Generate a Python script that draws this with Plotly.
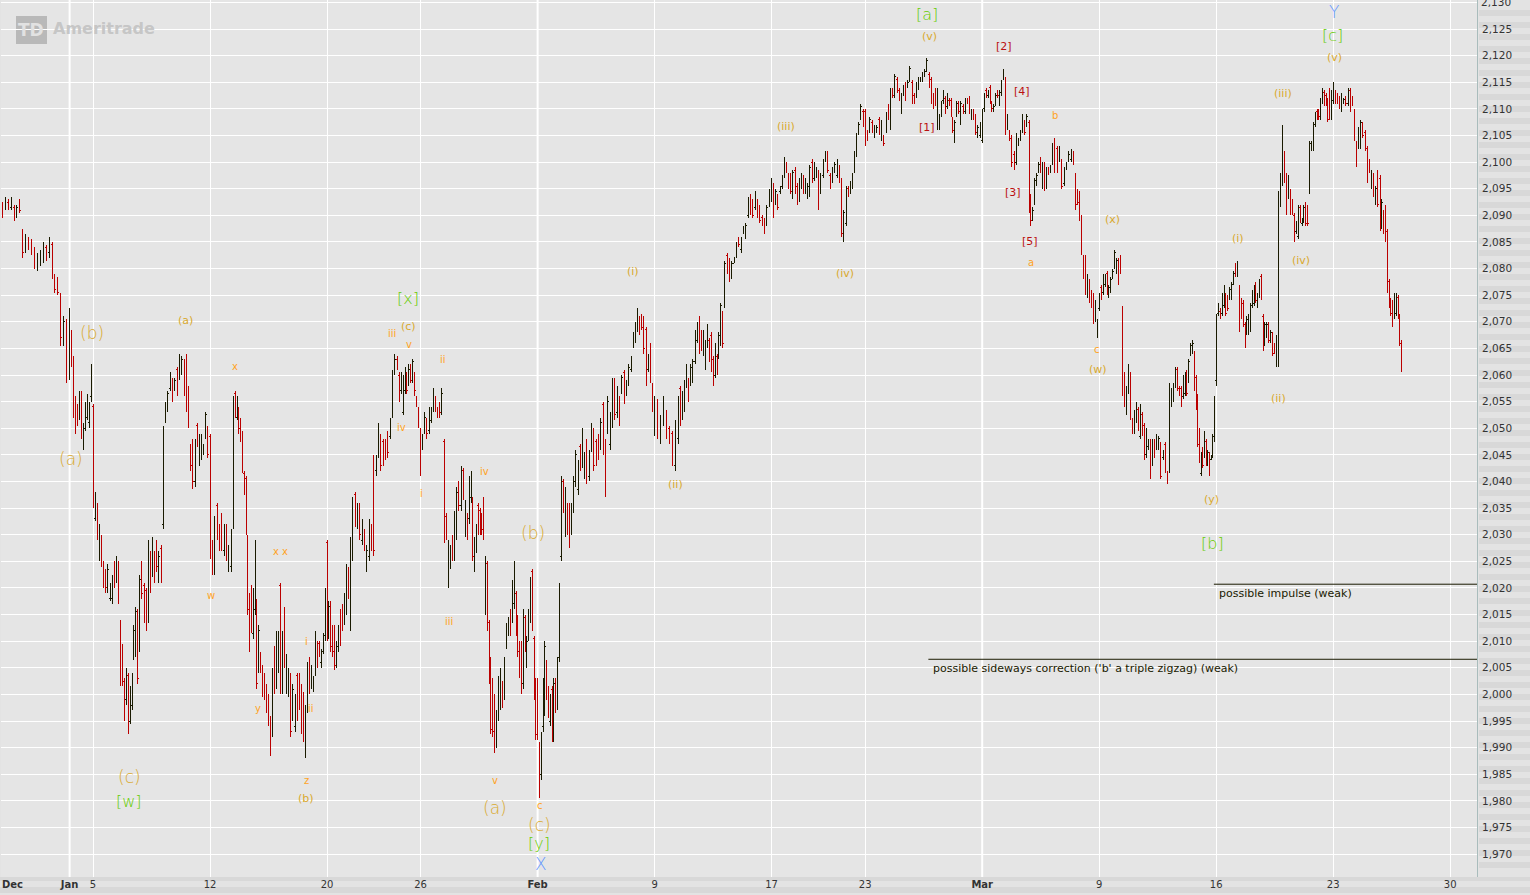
import plotly.graph_objects as go

# half hour bars, one row per trading session, first row is four sessions before Jan 5
first_session = -4

session_highs = [
    [2092,2092.5,2093.5,2093,2093.5,2092,2092,2093],
    [2087.5,2086.5,2086,2085.5,2084,2083,2083.5,2085],
    [2084.5,2086,2085,2079,2078.5,2075.5,2071,2070.5],
    [2072.5,2068.5,2063.5,2056,2054.5,2057,2057,2051,2055,2056.5,2055,2062],
    [2054.5,2038,2036,2032,2030,2025,2023.5,2024.5,2021,2022.5,2025],
    [2026,2025,2014,2009.5,2003,2005,2004,2001.5,2004,2013,2016.5,2016],
    [2022.5,2025,2021,2020,2029,2027,2029.5,2027,2029,2027,2028],
    [2050.5,2055,2057,2060.5,2059.5,2059.5,2061.5,2064,2063.5,2063],
    [2064,2058,2047,2048,2048,2051,2049,2049,2047,2053,2050.5],
    [2049,2029,2033.5,2036,2032,2034,2032,2032,2028,2031],
    [2056,2057,2056,2054,2052,2049.5,2042,2041,2030,2019,2020.5,2020,2029],
    [2018,2013,2008,2005.5,2004,2002,2000,1996,2005,2009,2012,2012],
    [2021,2012,2016.5,2007.5,2005,2004,2002,2000,2004,2004,2002],
    [2000.5,1998,2006,2007,2005.5,2003.5,2012,2010,2010,2008.5,2011.5,2020],
    [2029,2017.5,2017.5,2013,2013,2010,2013,2016,2017,2019,2024.5,2024],
    [2029.5,2037,2038,2036,2036,2033,2031,2028,2033,2032],
    [2045,2045,2051,2049,2048,2048,2049.5,2052,2061,2064],
    [2063.5,2060.5,2060.5,2060,2061.5,2060.5,2062,2062,2063,2060.5,2056,2054],
    [2050,2049,2053,2052,2054,2054,2057.5,2056,2054,2055,2057.5],
    [2048,2034,2029,2028,2030,2034.5,2039,2040,2043,2042.5,2036.5],
    [2034,2041,2042,2037,2029.5,2032,2036,2035,2034,2037,2026,2025,2014],
    [2007,2003,2000,1997,2003.5,2005,2002.5,2007,2013.5,2014.5,2016,2021.5],
    [2025,2019.5,2015,2010,2010,2016,2015,2011,2016,2022,2023.5,2011,2003],
    [2003,1991,1993,2003,2010,2006.5,2001.5,2000,2001.5,2003,2003,2007,2021],
    [2041,2040.5,2039,2036,2036,2036,2041,2046,2044,2047,2050],
    [2045.5,2048,2046,2051,2050,2048,2049,2052,2055,2048],
    [2056,2053,2059.5,2059.5,2058,2056,2060,2061,2059,2062],
    [2063.5,2068,2070,2072.5,2071,2071.5,2071,2069,2064,2066,2058.5],
    [2056,2055.5,2052.5,2056,2053.5,2050.5,2049.5,2051.5],
    [2056,2058,2057,2059,2062,2059.5,2062,2063,2068.5,2070,2071],
    [2068.5,2068.5,2066.5,2069.5,2067,2068,2063.5,2066,2064,2068,2073.5,2072],
    [2081.5,2083,2082,2081.5,2082,2085,2086,2086,2088,2088.5],
    [2093.5,2094,2093,2094.5,2093,2092,2090,2089.5,2092,2095],
    [2097,2096,2095,2094,2095.5,2097.5,2101,2100,2098,2098,2098.5],
    [2099,2096,2097,2098,2097.5,2097,2096,2099.5,2100.5,2100,2099],
    [2098.5,2098,2100.5,2102,2102,2098,2099,2100,2100.5,2099.5],
    [2097,2091,2095.5,2095.5,2096.5,2098,2102,2105.5,2107.5,2111,2110],
    [2110,2106,2108.5,2108,2107,2107,2108.5,2108,2105,2109.5],
    [2111,2114,2114,2116.5,2116,2114,2113,2114.5,2115,2115.5,2118],
    [2115.5,2113,2115,2116,2116,2117,2117.5,2119.5,2117,2116,2113],
    [2114,2114,2109,2111.5,2113.5,2112.5,2113,2112,2112,2108.5,2108,2111.5],
    [2111.5,2111.5,2111,2112,2112,2112.5,2110,2110,2109,2107,2107.5],
    [2110,2113,2114,2113.5,2114.5,2111.5,2111,2113,2113.5,2113.5,2115.5,2117.5],
    [2116,2109,2106,2105,2102,2105.5,2104.5,2106,2109,2108,2109],
    [2108,2094,2091.5,2097,2098,2100,2101,2100,2100,2099,2099,2099.5],
    [2103.5,2104.5,2103,2103,2100.5,2099,2100,2102,2102.5,2102],
    [2098,2095,2094.5,2090,2082.5,2082.5,2079,2078,2076,2075.5,2074,2070.5],
    [2075.5,2077,2079,2079,2079.5,2077,2078.5,2080,2083.5,2082,2082,2082.5],
    [2073,2060.5,2058,2062,2060.5,2052,2053.5,2055,2054,2054.5,2053,2051],
    [2050,2048,2048,2048,2048,2049,2048.5,2047.5,2046,2047.5,2042],
    [2058.5,2057.5,2058.5,2061.5,2061.5,2058,2058,2060,2060.5,2061,2063,2066],
    [2066.5,2064.5,2060,2056.5,2050,2045.5,2046.5,2049.5,2048,2046,2045.5,2045,2049,2056],
    [2071.5,2073.5,2072.5,2075.5,2077,2075.5,2075,2076.5,2077.5,2079.5,2081,2081.5],
    [2077,2074.5,2074,2070,2071,2071.5,2073.5,2076,2077,2077.5,2075.5,2078,2079],
    [2071.5,2070,2070,2070,2068.5,2068,2066,2067.5,2094.5,2098,2107,2102],
    [2098,2097.5,2095,2093,2090.5,2089,2092,2092,2089.5,2092,2092.5,2092],
    [2104,2104,2107.5,2109.5,2110,2110,2112,2114,2113.5,2113,2112,2114,2113.5],
    [2115,2113.5,2113,2112.5,2113,2112,2112.5,2114,2114,2112.5,2110],
    [2104,2106.5,2108,2107.5,2106,2103,2100.5,2098.5,2098,2095.5,2098.5],
    [2097.5,2093,2091,2092,2087.5,2078,2074.5,2074,2075.5,2075.5,2075,2071.5,2066.5],
]

session_lows = [
    [2085.5,2089.5,2091,2091,2091,2089,2089.5,2090.5],
    [2082,2083,2083.5,2082.5,2080,2079.5,2080.5,2081],
    [2081.5,2082,2078,2075.5,2075,2065.5,2065.5,2058.5],
    [2059,2061.5,2052,2049,2050.5,2051.5,2048,2046,2049.5,2051.5,2050,2055],
    [2035,2032.5,2029,2025,2024,2020,2019,2019,2017.5,2017,2020],
    [2021,2017,2001.5,2001.5,1995,1998,1992.5,1994.5,1997,2006.5,2007,2002],
    [2008,2018,2013.5,2012,2013.5,2019,2022,2021,2023,2021,2021],
    [2031,2051,2053,2057,2055,2057,2056,2059,2060,2056],
    [2053,2050,2042,2038.5,2039,2046.5,2043,2044,2045,2048,2044.5],
    [2025.5,2022.5,2022.5,2029,2027,2027,2026,2025,2023,2023],
    [2031,2052,2051.5,2049,2047.5,2041.5,2037.5,2030,2015,2008,2011.5,2010.5,2015],
    [2001,2004,2004,1999.5,1999,1996.5,1994,1988.5,1992,2000,2001,2004],
    [2000,2000,2005,2000,1999.5,1992,1995,1993,1995,1997,1992.5],
    [1991,1988,1996.5,2000,2001,2000.5,2003.5,2005,2007,2005,2007.5,2010],
    [2010,2010.5,2008,2007,2004.5,2005,2008,2009,2012,2013,2015,2018],
    [2012,2025,2031.5,2031,2029,2028,2027,2023,2025,2027],
    [2026,2041,2044.5,2042,2043,2044,2044.5,2048,2052,2060],
    [2061,2055,2056.5,2052.5,2056.5,2056.5,2058,2058.5,2058.5,2056,2054,2050],
    [2041,2046,2049,2048,2049,2051,2053,2053,2052,2052,2052.5],
    [2028.5,2029,2020,2023.5,2025,2025,2029,2034.5,2034.5,2036.5,2029.5],
    [2029,2032,2036,2025,2023,2026.5,2030,2030,2030,2029,2015,2012,2002],
    [1992.5,1992,1989,1990,1995,1997,1997.5,1999,2008.5,2011,2011,2013.5],
    [2016,2011,2007,2003,2000,2001,2008,2005,2010,2013.5,2012,1999,1991.5],
    [1991.5,1980.5,1984,1993,1996,1999,1995.5,1994,1991,1991,1996.5,1997,2006],
    [2025,2034,2029.5,2030,2027.5,2030,2034,2039,2037.5,2042,2042.5],
    [2040.5,2039.5,2040,2045.5,2042,2043,2044,2046,2045,2037],
    [2049,2046,2050,2051.5,2052,2050.5,2056.5,2054.5,2056,2058],
    [2060.5,2065,2066,2068,2067.5,2068.5,2064,2058,2060.5,2058.5,2053],
    [2048.5,2048,2047,2050.5,2048,2047,2043,2042],
    [2047,2050.5,2051.5,2053,2057.5,2055,2058,2058.5,2062,2066,2064],
    [2064.5,2063.5,2061,2065,2062.5,2060.5,2058,2059.5,2060,2063,2065.5,2065],
    [2072.5,2079,2077.5,2078,2081,2082,2084,2083,2086.5,2085.5],
    [2089.5,2090,2089.5,2091,2089.5,2088.5,2088,2086.5,2088,2091.5],
    [2092.5,2089.5,2092,2091,2094,2095,2097,2098,2095,2094,2093],
    [2094,2092,2092.5,2095,2094,2094,2093,2093.5,2096,2096.5,2097],
    [2091,2094,2097,2100,2098,2095,2096,2098,2097,2096],
    [2086,2085,2088,2093.5,2094,2095,2098,2101,2105,2108,2106.5],
    [2103,2104,2105.5,2105.5,2104.5,2105.5,2105,2104,2103,2105.5],
    [2108,2106,2112,2112,2113,2111.5,2109,2112.5,2111.5,2114,2115],
    [2111,2111,2112,2113.5,2115,2115,2116,2117,2114,2111,2110],
    [2110.5,2106,2106,2108.5,2111,2109,2110,2110.5,2108.5,2105.5,2103.5,2108.5],
    [2109,2107,2109,2109,2111,2109,2108,2108,2105,2104.5,2104.5],
    [2103.5,2109.5,2112,2112,2111,2109.5,2109.5,2110.5,2112,2110.5,2112.5,2115.5],
    [2105,2106,2104,2099,2098.5,2099.5,2103,2104,2105.5,2105,2106.5],
    [2090.5,2088,2089,2092,2095.5,2098,2098,2095,2094.5,2095,2097.5,2098],
    [2099.5,2098,2098,2100,2095,2095.5,2098.5,2100,2100,2099.5],
    [2091,2092,2089,2082.5,2078,2075,2074.5,2073.5,2072.5,2069.5,2070,2067],
    [2072,2074,2075,2076.5,2075,2074.5,2075.5,2078,2080,2079,2077,2079],
    [2056,2054,2052.5,2056.5,2051.5,2049,2049,2051,2049.5,2048,2048.5,2044],
    [2044.5,2046,2040.5,2043,2044.5,2046,2046,2040.5,2044,2041.5,2039.5],
    [2041.5,2054,2055,2057.5,2057,2056,2054,2055.5,2056,2056,2058.5,2063.5],
    [2064,2057,2053.5,2046.5,2043.5,2041,2042.5,2044.5,2043,2043,2041,2044,2044.5,2047.5],
    [2058,2071,2070.5,2071,2072.5,2071,2072,2074,2074,2077,2078.5,2078.5],
    [2068,2070.5,2069,2065,2067.5,2067.5,2068,2072.5,2073,2073.5,2072.5,2074.5,2074],
    [2064.5,2065.5,2067,2066,2066,2063.5,2064,2061.5,2061.5,2091.5,2095.5,2096],
    [2090,2093,2090,2090,2085,2086.5,2085.5,2088.5,2088,2088.5,2088,2088],
    [2094,2102,2102,2106.5,2108,2108,2108,2111,2110.5,2110.5,2107.5,2108,2108],
    [2111,2111,2111,2110,2109.5,2111,2110.5,2110.5,2109.5,2110.5,2104],
    [2099,2102.5,2102.5,2104.5,2102,2096,2098,2095,2093.5,2092,2091.5],
    [2087,2087.5,2086.5,2085,2075.5,2072.5,2071,2069,2070.5,2071,2070.5,2065.5,2060.5],
]

session_opens = [
    [2087,2091.5,2091.5,2092.5,2091.5,2091.5,2090,2092.5],
    [2087,2083.5,2085.5,2085,2083.5,2080,2081,2082],
    [2084,2083,2084.5,2078.5,2078,2075,2066.5,2070],
    [2060,2068,2063,2055.5,2054,2052,2056.5,2047,2050,2052,2051,2056],
    [2054,2033,2035.5,2026,2029.5,2024.5,2023,2020,2018,2018,2024.5],
    [2022,2024.5,2013.5,2009,2002.5,1999,2003.5,1995,1998,2007,2008,2015.5],
    [2009,2024.5,2020.5,2019.5,2014.5,2026.5,2023,2026.5,2028.5,2022,2027.5],
    [2032,2051.5,2053.5,2057.5,2059,2057.5,2061,2059.5,2060.5,2062.5],
    [2063.5,2057.5,2046.5,2047.5,2040,2050.5,2044,2045,2045.5,2049,2050],
    [2048.5,2028.5,2023.5,2035.5,2031.5,2033.5,2027,2031.5,2024,2024],
    [2032,2056.5,2052,2053.5,2051.5,2049,2041.5,2040.5,2029.5,2018.5,2020,2011.5,2016],
    [2017.5,2005,2007.5,2005,2003.5,2001.5,1999.5,1995.5,1993,2008.5,2002,2005],
    [2020.5,2001,2016,2001,2000.5,2003.5,1996,1994,2003.5,2003.5,2001.5],
    [2000,1989,1997,2006.5,2002,2001,2004,2009.5,2009.5,2006,2008,2011],
    [2028.5,2011.5,2017,2012.5,2012.5,2006,2009,2015.5,2016.5,2014,2016,2023.5],
    [2013,2026,2037.5,2032,2035.5,2029,2030.5,2024,2026,2031.5],
    [2044.5,2042,2045,2048.5,2047.5,2047.5,2049,2048.5,2053,2060.5],
    [2063,2060,2057,2053,2057,2060,2058.5,2061.5,2059,2060,2055.5,2053.5],
    [2049.5,2046.5,2049.5,2051.5,2049.5,2051.5,2053.5,2055.5,2053.5,2054.5,2053],
    [2047.5,2033.5,2021,2024,2029.5,2026,2030,2039.5,2035.5,2042,2030.5],
    [2033.5,2033,2037,2036.5,2024,2027,2035.5,2034.5,2033.5,2036.5,2016,2024.5,2013.5],
    [2006.5,2002.5,1999.5,1991,1996,1998,2002,2000,2009,2011.5,2015.5,2014.5],
    [2017,2019,2014.5,2009.5,2009.5,2002,2014.5,2006,2011,2014.5,2023,2010.5,2002.5],
    [2002.5,1990.5,1985,1994,1997,2006,2001,1995,2001,1992,2002.5,1998,2007],
    [2026,2040,2030.5,2035.5,2035.5,2031,2035,2040,2038.5,2046.5,2043.5],
    [2041.5,2047.5,2041,2046,2049.5,2047.5,2048.5,2047,2054.5,2047.5],
    [2050,2047,2051,2059,2053,2055.5,2057,2060.5,2056.5,2058.5],
    [2061,2065.5,2066.5,2068.5,2070.5,2071,2070.5,2068.5,2061,2065.5,2058],
    [2049,2055,2047.5,2051,2053,2050,2049,2043],
    [2048,2057.5,2052,2053.5,2058,2059,2058.5,2059,2062.5,2066.5,2070.5],
    [2068,2064,2061.5,2065.5,2066.5,2067.5,2063,2060,2063.5,2063.5,2066,2071.5],
    [2073,2082.5,2081.5,2078.5,2081,2082.5,2085.5,2083.5,2087,2086],
    [2090,2093.5,2092.5,2091.5,2092.5,2091.5,2089.5,2089,2088.5,2092],
    [2093,2095.5,2092.5,2093.5,2094.5,2095.5,2097.5,2099.5,2097.5,2097.5,2093.5],
    [2098.5,2095.5,2093,2095.5,2097,2094.5,2093.5,2094,2100,2097,2097.5],
    [2098,2094.5,2097.5,2100.5,2101.5,2097.5,2096.5,2098.5,2097.5,2099],
    [2096.5,2085.5,2088.5,2095,2094.5,2095.5,2098.5,2101.5,2105.5,2108.5,2109.5],
    [2109.5,2105.5,2106,2107.5,2105,2106,2108,2104.5,2104.5,2106],
    [2110.5,2107,2113.5,2112.5,2115.5,2113.5,2109.5,2113,2114.5,2114.5,2115.5],
    [2115,2112.5,2112.5,2114,2115.5,2115.5,2116.5,2117.5,2116.5,2115.5,2112.5],
    [2113.5,2106.5,2106.5,2109,2111.5,2112,2110.5,2111.5,2111.5,2108,2104,2109],
    [2111,2107.5,2110.5,2109.5,2111.8,2112,2108.5,2109.5,2108.5,2105,2105],
    [2104,2110,2113.5,2112.5,2114,2111,2110,2111,2113,2111,2113,2116],
    [2115.5,2106.5,2105.5,2104.5,2101.5,2100,2103.5,2104.5,2106,2107.5,2107],
    [2107.5,2093.5,2089.5,2092.5,2096,2098.5,2100.5,2095.5,2099.5,2095.5,2098.5,2098.5],
    [2100,2104,2102.5,2100.5,2100,2096,2099,2100.5,2100.5,2101.5],
    [2097.5,2094.5,2094,2089.5,2082,2082,2075,2077.5,2075.5,2075,2070.5,2067.5],
    [2072.5,2076.5,2075.5,2077,2079,2075,2076,2078.5,2080.5,2079.5,2081.5,2082],
    [2072.5,2060,2053,2057,2060,2051.5,2049.5,2051.5,2053.5,2048.5,2052.5,2050.5],
    [2045,2046.5,2047.5,2043.5,2047.5,2046.5,2046.5,2047,2044.5,2047,2041.5],
    [2042,2054.5,2055.5,2058,2061,2057.5,2057.5,2056,2056.5,2060.5,2059,2064],
    [2064.5,2064,2059.5,2056,2049.5,2041.5,2046,2045,2047.5,2043.5,2045,2044.2,2045,2048],
    [2059,2071.5,2072,2071.5,2073,2075,2074.5,2074.5,2074.5,2077.5,2080.5,2079],
    [2076.5,2074,2073.5,2069.5,2068,2068,2068.5,2073,2073.5,2077,2073,2075,2078.5],
    [2071,2066,2067.5,2069.5,2066.5,2067.5,2065.5,2062,2062,2092,2096,2101.5],
    [2097.5,2093.5,2094.5,2092.5,2090,2087,2086,2091.5,2088.5,2089,2092,2091.5],
    [2094.5,2102.5,2102.5,2107,2109.5,2109.5,2108.5,2111.5,2113,2112.5,2111.5,2113.5,2108.5],
    [2111.5,2113,2112.5,2112,2110,2111.2,2112,2111,2113.5,2112,2109.5],
    [2103.5,2103,2103,2107,2105.5,2102.5,2100,2095.5,2097.5,2092.5,2098],
    [2097,2088,2090.5,2091.5,2087,2077.5,2074,2073.5,2071,2071.5,2074.5,2071,2066],
]

session_closes = [
    [2091,2090.5,2093,2091.5,2092.5,2090,2091.5,2091],
    [2083,2085.5,2084,2083,2080.5,2082,2083,2084.5],
    [2082,2085.5,2079,2076,2075.5,2067,2070,2060],
    [2071,2062,2053,2050,2051,2056,2049,2050,2054,2055.5,2054,2061],
    [2036,2037,2030,2031,2025,2021,2020,2023.5,2020,2021.5,2021],
    [2025,2018,2002.5,2002,1996,2004,1993.5,2000.5,2003,2012,2015.5,2003],
    [2021.5,2019,2014.5,2013,2028,2020,2028.5,2022,2024,2026,2022],
    [2050,2054.5,2056.5,2060,2056,2059,2057,2063.5,2063,2057],
    [2054,2051,2043,2040,2047,2047,2048,2048,2046.5,2052.5,2045],
    [2026.5,2023.5,2033,2030,2028,2028,2031,2026,2027,2030],
    [2055,2053,2055.5,2050,2048.5,2042.5,2038.5,2031,2016,2009,2012.5,2019,2028],
    [2002,2012,2005,2000.5,2000,1997.5,1995,1989.5,2004,2001,2011,2011],
    [2001,2011,2006,2006.5,2004,1993,2001,1999,1996,1998,1993.5],
    [1992,1997,2005.5,2001,2005,2003,2011,2006,2008,2008,2011,2019],
    [2011,2016.5,2009,2008,2005.5,2009,2012.5,2010,2013,2018.5,2024,2019],
    [2029,2036,2032.5,2035,2030,2032,2028,2027,2032,2028],
    [2027,2044,2050,2043,2044,2045,2045.5,2051,2060,2063],
    [2061.5,2056,2060,2059,2060.5,2057,2061,2059,2062.5,2057,2054.5,2051],
    [2042,2048,2052,2049,2053,2053,2056.5,2054,2052.5,2053,2056.5],
    [2029.5,2030,2028,2027,2026,2033.5,2038,2035.5,2042,2037.5,2035.5],
    [2030,2040,2041,2026,2028.5,2031,2031,2031,2031,2030,2025,2013,2003],
    [1993.5,1993,1990,1996,2002.5,2004,1998,2006,2013,2014,2012,2020.5],
    [2024,2012,2008,2004,2001,2015,2009,2010,2015,2021,2013,2000,1992.5],
    [1992.5,1981.5,1992,2002,2009,2000,1996.5,1999,1992,2002,1997.5,2006,2020],
    [2040,2035,2038,2031,2028.5,2035,2040,2045,2043,2043,2049],
    [2045,2040.5,2045,2050,2043,2044,2045,2051,2046,2038],
    [2055,2052,2059,2052.5,2057,2051.5,2059.5,2055.5,2058.5,2061.5],
    [2063,2067.5,2069.5,2072,2068,2069,2065,2059,2063.5,2059.5,2054],
    [2055.5,2049,2052,2055.5,2049,2047.5,2044,2051],
    [2055.5,2051.5,2056.5,2058.5,2061.5,2056,2061.5,2062.5,2068,2069.5,2065],
    [2065,2068,2066,2069,2063,2061.5,2059,2065.5,2061,2067.5,2073,2066],
    [2081,2079.5,2078,2081,2082,2084.5,2084.5,2085.5,2088,2088],
    [2093,2090.5,2090,2094,2090,2089,2088.5,2087,2091.5,2094.5],
    [2096.5,2090,2094.5,2091.5,2095,2097,2100.5,2098.5,2095.5,2094.5,2098],
    [2094.5,2092.5,2096.5,2097.5,2094.5,2096.5,2095.5,2099,2096.5,2099.5,2098.5],
    [2091.5,2097.5,2100,2101.5,2098.5,2095.5,2098.5,2099.5,2100,2096.5],
    [2086.5,2090.5,2095,2094,2096,2097.5,2101.5,2105,2107,2110.5,2107],
    [2104,2104.5,2108,2106,2106.5,2106.5,2105.5,2107.5,2103.5,2109],
    [2108.5,2113,2112.5,2116,2113.5,2112,2112.5,2114,2112,2115,2117.5],
    [2111.5,2111.5,2114.5,2115.5,2116,2116.5,2117,2119,2114.5,2111.5,2110.5],
    [2111,2108,2108.5,2111,2113,2109.5,2112.5,2111,2109,2106,2107.5,2111],
    [2109.5,2111,2109.5,2111.5,2111.2,2109.5,2109.5,2108.5,2105.5,2106.5,2107],
    [2109.5,2112.5,2112.5,2113,2111.5,2110,2110.5,2112.5,2112.5,2113,2115,2117],
    [2106,2108.5,2104.5,2100,2099,2105,2104,2105.5,2108.5,2105.5,2108.5],
    [2091.5,2089,2091,2096.5,2097.5,2099.5,2098.5,2099.5,2095,2098.5,2098,2099],
    [2103,2098.5,2098.5,2102.5,2095.5,2098.5,2099.5,2101.5,2102,2100],
    [2092,2092.5,2090,2083,2078.5,2075.5,2078.5,2074,2073,2070,2073.5,2070],
    [2075,2074.5,2078.5,2078.5,2075.5,2076.5,2078,2079.5,2083,2081.5,2077.5,2079.5],
    [2057,2055,2057.5,2061.5,2052,2050,2053,2054.5,2050,2054,2049,2045],
    [2049.5,2047.5,2041,2047.5,2045,2048.5,2048,2041,2045.5,2042,2040],
    [2058,2057,2058,2061,2057.5,2056.5,2054.5,2059.5,2060,2056.5,2062.5,2065.5],
    [2066,2058,2054,2047,2044,2045,2043,2049,2043.5,2045.5,2041.5,2044.8,2048.5,2055.5],
    [2071,2073,2071,2075,2076.5,2071.5,2072.5,2076,2077,2079,2079,2081],
    [2069,2071,2069.5,2066,2070.5,2071,2073,2075.5,2076.5,2074,2075,2077.5,2074.5],
    [2065,2069.5,2069.5,2066.5,2068,2064,2064.5,2067,2094,2097.5,2106.5,2096.5],
    [2091,2097,2091,2090.5,2086,2088.5,2091.5,2089,2089,2091.5,2088.5,2088.5],
    [2103.5,2103.5,2107,2109,2108.5,2108.5,2111.5,2113.5,2111,2111,2108,2109,2113],
    [2114.5,2111.5,2111.5,2110.5,2112.5,2111.8,2111,2113.5,2110,2111,2104.5],
    [2099.5,2106,2107.5,2105,2102.5,2096.5,2098.5,2098,2094,2095,2092],
    [2088,2092.5,2087,2086,2076,2073,2071.5,2069.5,2075,2075,2071,2066,2061],
]

# trading days counted from Jan 5
tick_days = [-1, 0, 5, 10, 14, 19, 24, 29, 33, 38, 43, 48, 53, 58]
tick_text = ['<b>Jan</b>', '5', '12', '20', '26', '<b>Feb</b>', '9', '17', '23', '<b>Mar</b>', '9', '16', '23', '30']
month_days = [-1, 19, 38]
price_ticks = list(range(1970, 2131, 5))

impulse_level = 2020.7
sideways_level = 2006.6
impulse_start = 47.9
sideways_start = 35.7
right_day = 59.15

GOLD = '#d9a92e'
GREEN = '#66cc00'
BLUE = '#6699ff'
ORANGE = '#ffa31f'
RED = '#bb1111'

# text, centre x px, centre y px in the screenshot
big_gold = [('(b)', 92, 333), ('(a)', 71, 459), ('(c)', 129, 777), ('(b)', 533, 533), ('(a)', 495, 808), ('(c)', 539, 825)]
big_green = [('[w]', 129, 801), ('[y]', 539, 843), ('[x]', 408, 298), ('[a]', 927, 14), ('[c]', 1332, 35), ('[b]', 1212, 543)]
big_blue = [('X', 541, 864), ('Y', 1334, 12)]
mid_gold = [('(a)', 185, 320), ('(c)', 408, 326), ('(i)', 633, 271), ('(ii)', 675, 484), ('(iii)', 786, 126),
            ('(iv)', 845, 273), ('(v)', 929, 36), ('(v)', 1334, 57), ('(iii)', 1283, 93), ('(iv)', 1301, 260),
            ('(i)', 1238, 238), ('(ii)', 1278, 398), ('(y)', 1211, 499), ('(w)', 1098, 369), ('(x)', 1112, 219),
            ('(b)', 306, 798)]
small_orange = [('x', 235, 366), ('x x', 280, 551), ('w', 211, 595), ('y', 258, 708), ('i', 306, 641), ('ii', 311, 708),
                ('z', 306, 780), ('iii', 392, 333), ('v', 409, 344), ('ii', 443, 359), ('iv', 401, 427), ('i', 421, 493),
                ('iv', 484, 471), ('iii', 449, 621), ('v', 495, 780), ('c', 540, 805), ('b', 1055, 115), ('a', 1031, 262),
                ('c', 1097, 349)]
small_red = [('[1]', 927, 127), ('[2]', 1004, 46), ('[3]', 1013, 192), ('[4]', 1022, 91), ('[5]', 1030, 241)]


def day_at(px):
    return (px - 93) / 23.4


def price_at(py):
    return 2130.45 - 0.18786 * py


def paper_y(py):
    return 1 - py / 877


bar_x, bar_open, bar_high, bar_low, bar_close = [], [], [], [], []
for row, highs in enumerate(session_highs):
    for j, high in enumerate(highs):
        bar_x.append(first_session + row + j / len(highs))
        bar_open.append(session_opens[row][j])
        bar_high.append(high)
        bar_low.append(session_lows[row][j])
        bar_close.append(session_closes[row][j])

fig = go.Figure()

fig.add_trace(go.Ohlc(
    x=bar_x, open=bar_open, high=bar_high, low=bar_low, close=bar_close,
    increasing=dict(line=dict(color='#1a1a00', width=1)),
    decreasing=dict(line=dict(color='#bb0000', width=1)),
    tickwidth=0.45, hoverinfo='skip', showlegend=False,
))

fig.add_trace(go.Scatter(x=[impulse_start, right_day], y=[impulse_level, impulse_level], mode='lines',
                         line=dict(color='#1a1a00', width=1), hoverinfo='skip', showlegend=False))
fig.add_trace(go.Scatter(x=[sideways_start, right_day], y=[sideways_level, sideways_level], mode='lines',
                         line=dict(color='#1a1a00', width=1), hoverinfo='skip', showlegend=False))


def add_labels(labels, size, color, family='DejaVu Sans'):
    for text, px, py in labels:
        fig.add_annotation(x=day_at(px), y=price_at(py), text=text, showarrow=False,
                           xanchor='center', yanchor='middle',
                           font=dict(family=family, size=size, color=color))


THIN = 'DejaVu Sans Light, DejaVu Sans'
add_labels(big_gold, 17, GOLD, THIN)
add_labels(big_green, 16, GREEN, THIN)
add_labels(big_blue, 17, BLUE, THIN)
add_labels(mid_gold, 11, GOLD)
add_labels(small_orange, 10, ORANGE)
add_labels(small_red, 11, RED)

for text, px, py in [('possible impulse (weak)', 1218, 593),
                     ("possible sideways correction ('b' a triple zigzag) (weak)", 932, 668)]:
    fig.add_annotation(x=day_at(px), y=price_at(py), text=text, showarrow=False, xanchor='left', yanchor='middle',
                       xshift=-1, font=dict(family='DejaVu Sans', size=11, color='#1a1a00'))

# TD logo watermark
fig.add_shape(type='rect', xref='x', yref='y', x0=day_at(16), x1=day_at(47), y0=price_at(44), y1=price_at(16),
              fillcolor='#b9b9b9', line_width=0, layer='below')
fig.add_annotation(x=day_at(31), y=price_at(30), text='<b>TD</b>', showarrow=False,
                   font=dict(family='DejaVu Sans', size=17, color='#e2e2e2'))
fig.add_annotation(x=day_at(104), y=price_at(28), text='<b>Ameritrade</b>', showarrow=False,
                   font=dict(family='DejaVu Sans', size=16, color='#c6c6c6'))

# Dec has no grid line, label sits at the left edge
fig.add_annotation(x=0, xref='paper', xanchor='left', y=0, yref='paper', yanchor='top', yshift=0, xshift=-1,
                   text='<b>Dec</b>', showarrow=False, font=dict(family='DejaVu Sans', size=10, color='#333333'))

# top label is cut by the page edge in the original, plotly drops it
fig.add_annotation(x=1481 / 1476, xref='paper', xanchor='left', y=price_at(2), text='2,130', showarrow=False,
                   yanchor='middle', xshift=-3, font=dict(family='DejaVu Sans', size=10.5, color='#333333'))

for day in month_days:
    fig.add_shape(type='line', xref='x', yref='paper', x0=day, x1=day, y0=0, y1=1,
                  line=dict(color='white', width=2), layer='below')

# striped axis panels
stripes = '#d8d8d8'
for py in range(10, 870, 12):
    fig.add_shape(type='rect', xref='paper', yref='paper', x0=1478 / 1476, x1=1530 / 1476,
                  y0=paper_y(py), y1=paper_y(py + 6), fillcolor=stripes, line_width=0, layer='below')
for py in (877, 887):
    fig.add_shape(type='rect', xref='paper', yref='paper', x0=-1 / 1476, x1=1530 / 1476,
                  y0=paper_y(py), y1=paper_y(py + (4 if py == 877 else 6)), fillcolor=stripes, line_width=0, layer='below')

fig.update_layout(
    width=1530, height=895,
    margin=dict(l=1, r=53, t=0, b=18, autoexpand=False),
    paper_bgcolor='#e3e3e3', plot_bgcolor='#e5e5e5',
    font=dict(family='DejaVu Sans', size=10, color='#333333'),
    showlegend=False, dragmode=False,
    xaxis=dict(range=[day_at(1), day_at(1477)], tickmode='array', tickvals=tick_days, ticktext=tick_text,
               showgrid=True, gridcolor='white', gridwidth=1, zeroline=False, showline=False, ticks='',
               rangeslider=dict(visible=False), tickangle=0),
    yaxis=dict(range=[price_at(877), price_at(0)], side='right', tickmode='array', tickvals=price_ticks,
               tickformat=',d', showgrid=True, gridcolor='white', gridwidth=1, zeroline=False,
               showline=True, linecolor='#a9bcbc', linewidth=1, ticks='outside', ticklen=2,
               tickcolor='rgba(0,0,0,0)', tickfont=dict(family='DejaVu Sans', size=10.5, color='#333333')),
)

# ohlc paths come out blurred at fractional pixels, the original bars are hard 1px
crisp = ("document.body.style.margin='0';"
         "document.querySelectorAll('.ohlc path').forEach(function(p){p.style.shapeRendering='crispEdges';});")
fig.write_html('out.html', config={'displayModeBar': False}, post_script=crisp)
